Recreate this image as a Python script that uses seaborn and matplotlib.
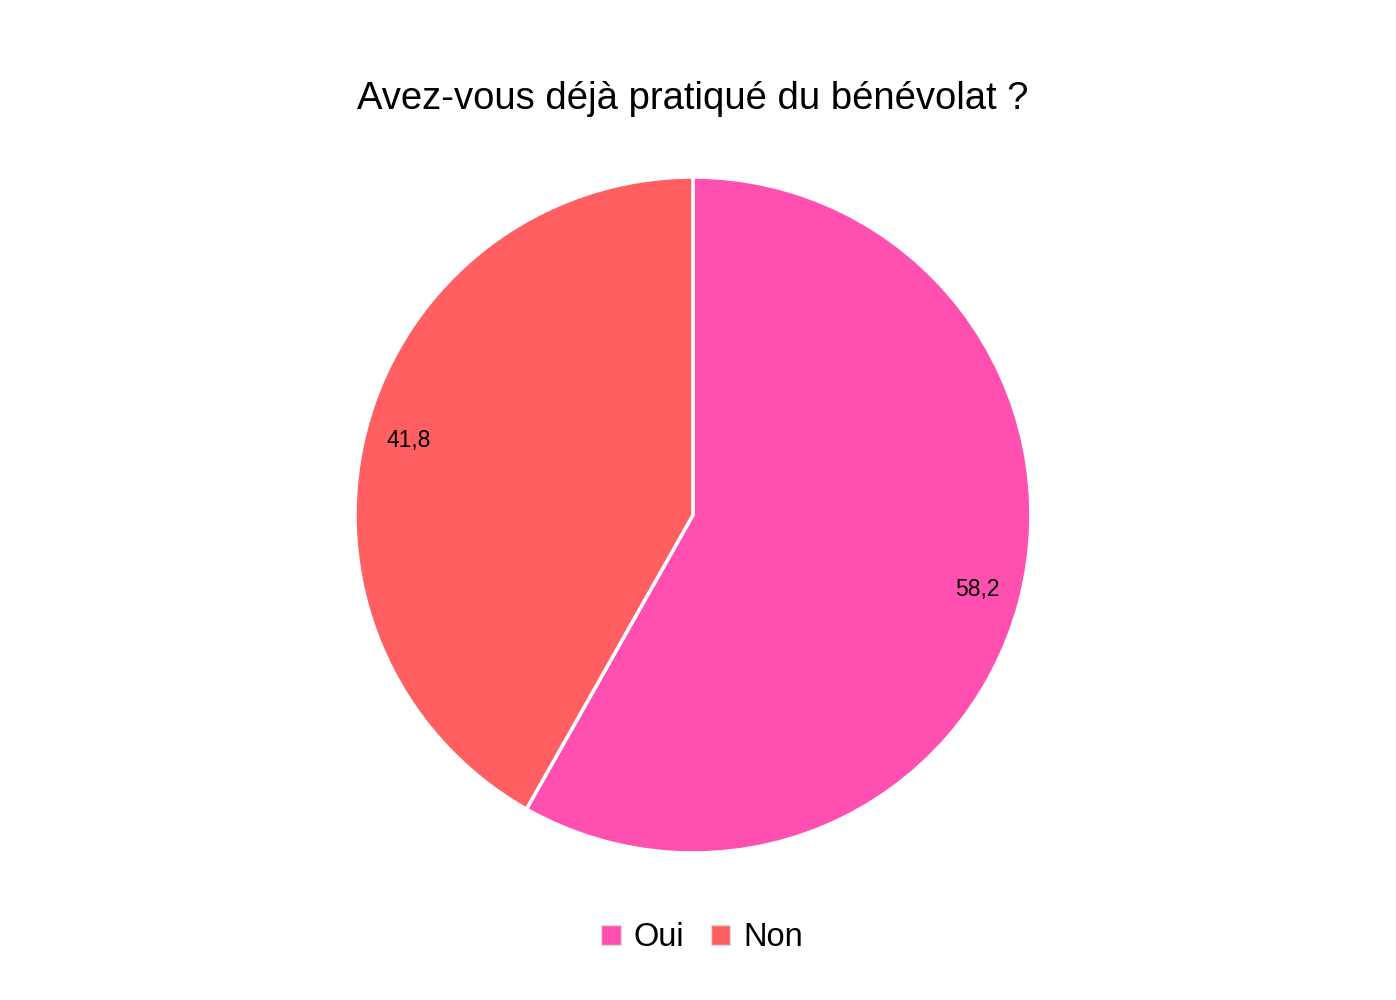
import matplotlib
matplotlib.use("Agg")
import matplotlib.pyplot as plt
import seaborn as sns
from matplotlib.patches import Patch

sns.set_theme(style="white")
plt.rcParams['font.family'] = ['Liberation Sans', 'DejaVu Sans']
plt.rcParams['text.color'] = 'black'

categories = ["Oui", "Non"]
values = [58.2, 41.8]
colors = ["#FF4FB0", "#FF5F61"]
title = "Avez-vous déjà pratiqué du bénévolat ?"

fig = plt.figure(figsize=(13.96, 10), dpi=100)
ax = fig.add_axes([0.2543, 0.147, 0.4842, 0.676])
wedges, texts, autotexts = ax.pie(
    values, colors=colors, startangle=90, counterclock=False,
    autopct=lambda p: f"{p:.1f}".replace(".", ","), pctdistance=0.87,
    wedgeprops=dict(edgecolor="white", linewidth=2.5),
    textprops=dict(fontsize=16.5, color="black"), radius=1)
ax.set_xlim(-1, 1)
ax.set_ylim(-1, 1)
ax.set_aspect("equal")

fig.text(0.4964, 0.901, title, ha="center", va="center", fontsize=27.5, color="black")

handles = [Patch(facecolor=c, edgecolor="#dddddd", linewidth=1) for c in colors]
leg = fig.legend(handles, categories, loc="center", bbox_to_anchor=(0.503, 0.062), ncol=2,
                 frameon=False, fontsize=23.5, handlelength=0.6, handleheight=0.6,
                 handletextpad=0.4, columnspacing=0.8)
for t in leg.get_texts():
    t.set_color("black")

fig.savefig("out.png", dpi=100, facecolor="white")
